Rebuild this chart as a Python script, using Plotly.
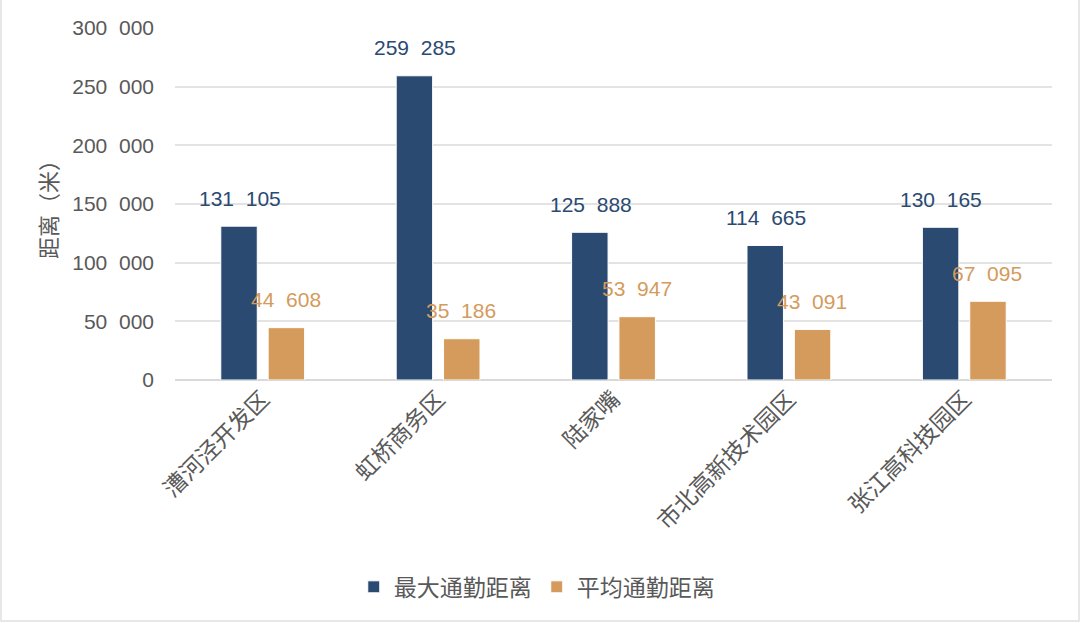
import plotly.graph_objects as go

# data
categories = ['漕河泾开发区', '虹桥商务区', '陆家嘴', '市北高新技术园区', '张江高科技园区']
max_dist = [131105, 259285, 125888, 114665, 130165]
avg_dist = [44608, 35186, 53947, 43091, 67095]
y_ticks = [0, 50000, 100000, 150000, 200000, 250000, 300000]

BLUE = '#2a4a72'
ORANGE = '#d49b5c'
GREY = '#595959'
FONT = 'Liberation Sans, Noto Sans CJK SC, sans-serif'
CJK = 'Noto Sans CJK SC, sans-serif'

ML, MR, MT, MB = 175, 28, 28, 243
PW, PH = 1080 - ML - MR, 623 - MT - MB


def fmt(v):
    # thousands split by a wide gap, like the source chart
    return '{:,}'.format(v).replace(',', '  ')


fig = go.Figure()
fig.add_trace(go.Bar(x=categories, y=max_dist, name='最大通勤距离',
                     marker=dict(color=BLUE, line=dict(color='#ffffff', width=1))))
fig.add_trace(go.Bar(x=categories, y=avg_dist, name='平均通勤距离',
                     marker=dict(color=ORANGE, line=dict(color='#ffffff', width=1))))

# value labels sit well above each bar
for cat, v in zip(categories, max_dist):
    fig.add_annotation(x=cat, y=v, text=fmt(v), showarrow=False, xshift=-23,
                       yshift=28, yanchor='middle',
                       font=dict(family=FONT, size=21, color=BLUE))
for cat, v in zip(categories, avg_dist):
    fig.add_annotation(x=cat, y=v, text=fmt(v), showarrow=False, xshift=23,
                       yshift=28, yanchor='middle',
                       font=dict(family=FONT, size=21, color=ORANGE))

# faint frame round the whole picture
fig.add_shape(type='rect', xref='paper', yref='paper',
              x0=-(ML - 1) / PW, x1=1 + (MR - 1) / PW,
              y0=-(MB - 2) / PH, y1=1 + (MT + 20) / PH,
              line=dict(color='#e0e0e0', width=1.5), fillcolor='rgba(0,0,0,0)')

fig.update_layout(
    width=1080, height=623,
    margin=dict(l=ML, r=MR, t=MT, b=MB),
    paper_bgcolor='white', plot_bgcolor='white',
    barmode='group', bargap=0.46, bargroupgap=0.23,
    font=dict(family=FONT, size=21, color=GREY),
    showlegend=True,
    legend=dict(orientation='h', xref='container', x=0.497, xanchor='center',
                yref='container', y=0.058, yanchor='middle',
                font=dict(family=CJK, size=23, color=GREY),
                itemwidth=30, traceorder='normal'),
)
fig.update_xaxes(showgrid=False, showline=False, tickangle=-45,
                 tickfont=dict(family=CJK, size=23, color=GREY))
fig.update_yaxes(range=[0, 300000], tickvals=y_ticks,
                 ticktext=[fmt(v) for v in y_ticks],
                 showgrid=True, gridcolor='#e3e3e3', gridwidth=2,
                 zeroline=True, zerolinecolor='#d9d9d9', zerolinewidth=2,
                 ticklabelstandoff=20,
                 tickfont=dict(family=FONT, size=21, color=GREY),
                 title=dict(text='距离（米）', standoff=8,
                            font=dict(family=CJK, size=22, color=GREY)))

# drop the default 8px body margin so the figure fills the window exactly
fig.write_html('out.html', config={'displayModeBar': False},
               post_script="document.body.style.margin='0px';")
